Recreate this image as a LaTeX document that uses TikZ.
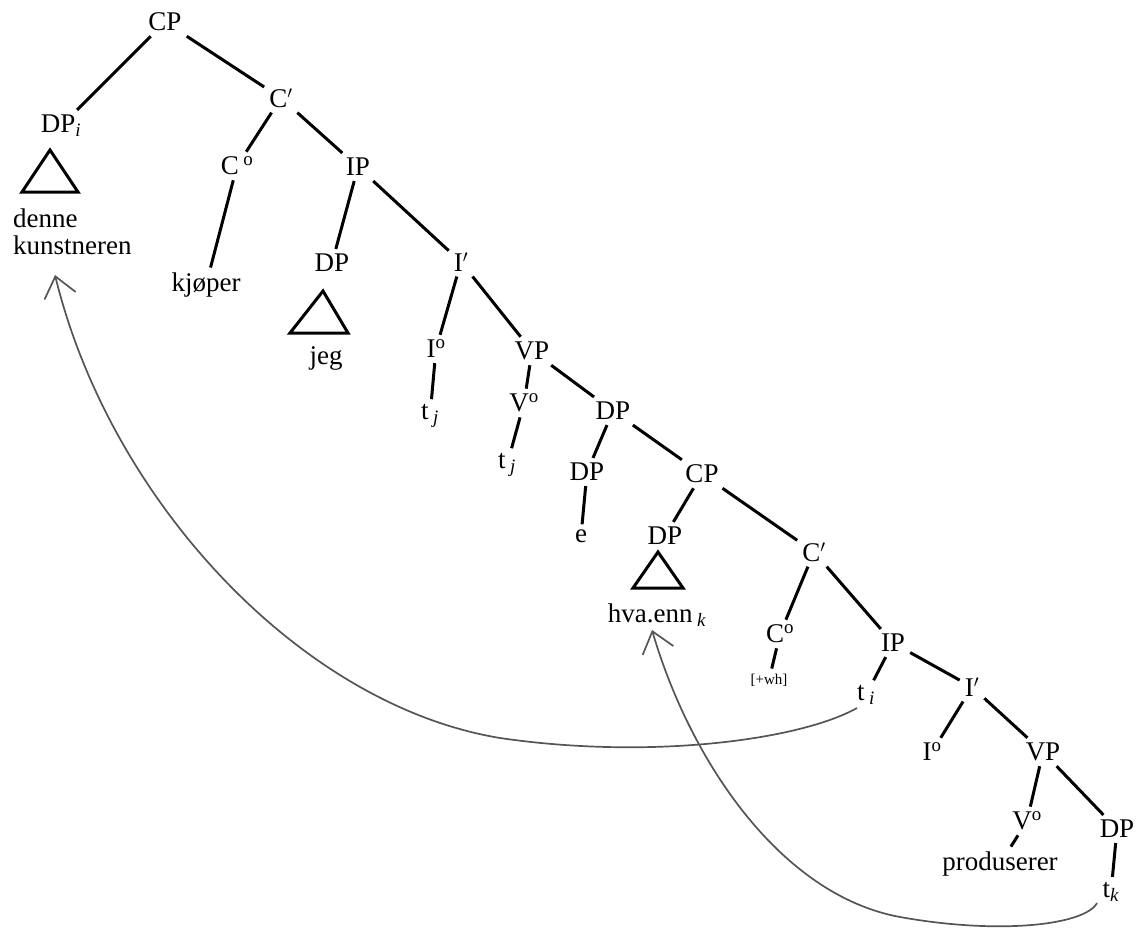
\documentclass[tikz,border=0pt]{standalone}
\usepackage{fontspec}
\setmainfont{Liberation Serif}
\usetikzlibrary{arrows.meta}
\definecolor{arrowgray}{RGB}{85,85,85}
\begin{document}
\begin{tikzpicture}[x=1pt,y=-1pt,
  lab/.style={inner sep=5pt,font=\fontsize{27}{30}\selectfont},
  small/.style={inner sep=5pt,font=\fontsize{15}{17}\selectfont},
  edge/.style={line width=3pt},
  tri/.style={line width=3pt,line join=miter},
  mv/.style={draw=arrowgray,line width=1.7pt,-{Straight Barb[length=20pt,width=32pt,line width=1.7pt]}}]
\path[use as bounding box] (0,0) rectangle (1136,929);
% nodes
\node[lab] (cp) at (165,22) {CP};
\node[lab] (c1) at (281,98) {C$'$};
\node[lab] (dpi) at (61,126) {DP\textsubscript{\textit{i}}};
\node[lab,align=left,anchor=west,font=\fontsize{27}{27}\selectfont,inner sep=3pt] (kunst) at (10,232) {denne\\kunstneren};
\node[lab] (c0a) at (237,166) {C\,\textsuperscript{o}};
\node[lab] (ip1) at (358,167) {IP};
\node[lab] (kjop) at (206,285) {kjøper};
\node[lab] (dp2) at (332,263) {DP};
\node[lab] (jeg) at (326,358) {jeg};
\node[lab] (i1) at (461,262) {I$'$};
\node[lab] (i0a) at (436,349) {I\textsuperscript{o}};
\node[lab] (tj1) at (430,416) {t\,\textsubscript{\textit{j}}};
\node[lab] (vp1) at (532,351) {VP};
\node[lab] (v0a) at (524,403) {V\textsuperscript{o}};
\node[lab] (tj2) at (507,465) {t\,\textsubscript{\textit{j}}};
\node[lab] (dp3) at (613,411) {DP};
\node[lab] (dp4) at (587,472) {DP};
\node[lab] (cp2) at (702,474) {CP};
\node[lab] (e) at (581,536) {e};
\node[lab] (dp5) at (665,536) {DP};
\node[lab] (hva) at (657,615) {hva.enn\,\textsubscript{\textit{k}}};
\node[lab] (c2) at (814,552) {C$'$};
\node[lab] (c0b) at (780,634) {C\textsuperscript{o}};
\node[small] (wh) at (769,680) {[+wh]};
\node[lab] (ip2) at (893,643) {IP};
\node[lab] (ti) at (866,695) {t\,\textsubscript{\textit{i}}};
\node[lab] (i2) at (972,687) {I$'$};
\node[lab] (i0b) at (932,752) {I\textsuperscript{o}};
\node[lab] (vp2) at (1043,752) {VP};
\node[lab] (v0b) at (1027,821) {V\textsuperscript{o}};
\node[lab] (prod) at (1000,864) {produserer};
\node[lab] (dp6) at (1117,829) {DP};
\node[lab] (tk) at (1111,892) {t\textsubscript{\textit{k}}};
% edges
\foreach \a/\b in {cp/dpi,cp/c1,c1/c0a,c1/ip1,c0a/kjop,ip1/dp2,ip1/i1,i1/i0a,i1/vp1,i0a/tj1,
  vp1/v0a,vp1/dp3,v0a/tj2,dp3/dp4,dp3/cp2,dp4/e,cp2/dp5,cp2/c2,c2/c0b,c2/ip2,c0b/wh,
  ip2/ti,ip2/i2,i2/i0b,i2/vp2,vp2/v0b,vp2/dp6,v0b/prod,dp6/tk}
  \draw[edge] (\a) -- (\b);
% triangles
\draw[tri] (50,150) -- (22,192) -- (78,192) -- cycle;
\draw[tri] (323,291) -- (290,333) -- (348,333) -- cycle;
\draw[tri] (658,552) -- (633,588) -- (683,588) -- cycle;
% movement arrows
\coordinate (a1s) at (857,708);
\coordinate (a1e) at (55,275);
\coordinate (a2s) at (1097,903);
\coordinate (a2e) at (652,630);
\draw[mv] (a1s) .. controls (800,740) and (650,760) .. (500,738)
  .. controls (300,705) and (110,500) .. (a1e);
\draw[mv] (a2s) .. controls (1085,925) and (1000,935) .. (900,917)
  .. controls (780,895) and (690,760) .. (a2e);
\end{tikzpicture}
\end{document}
